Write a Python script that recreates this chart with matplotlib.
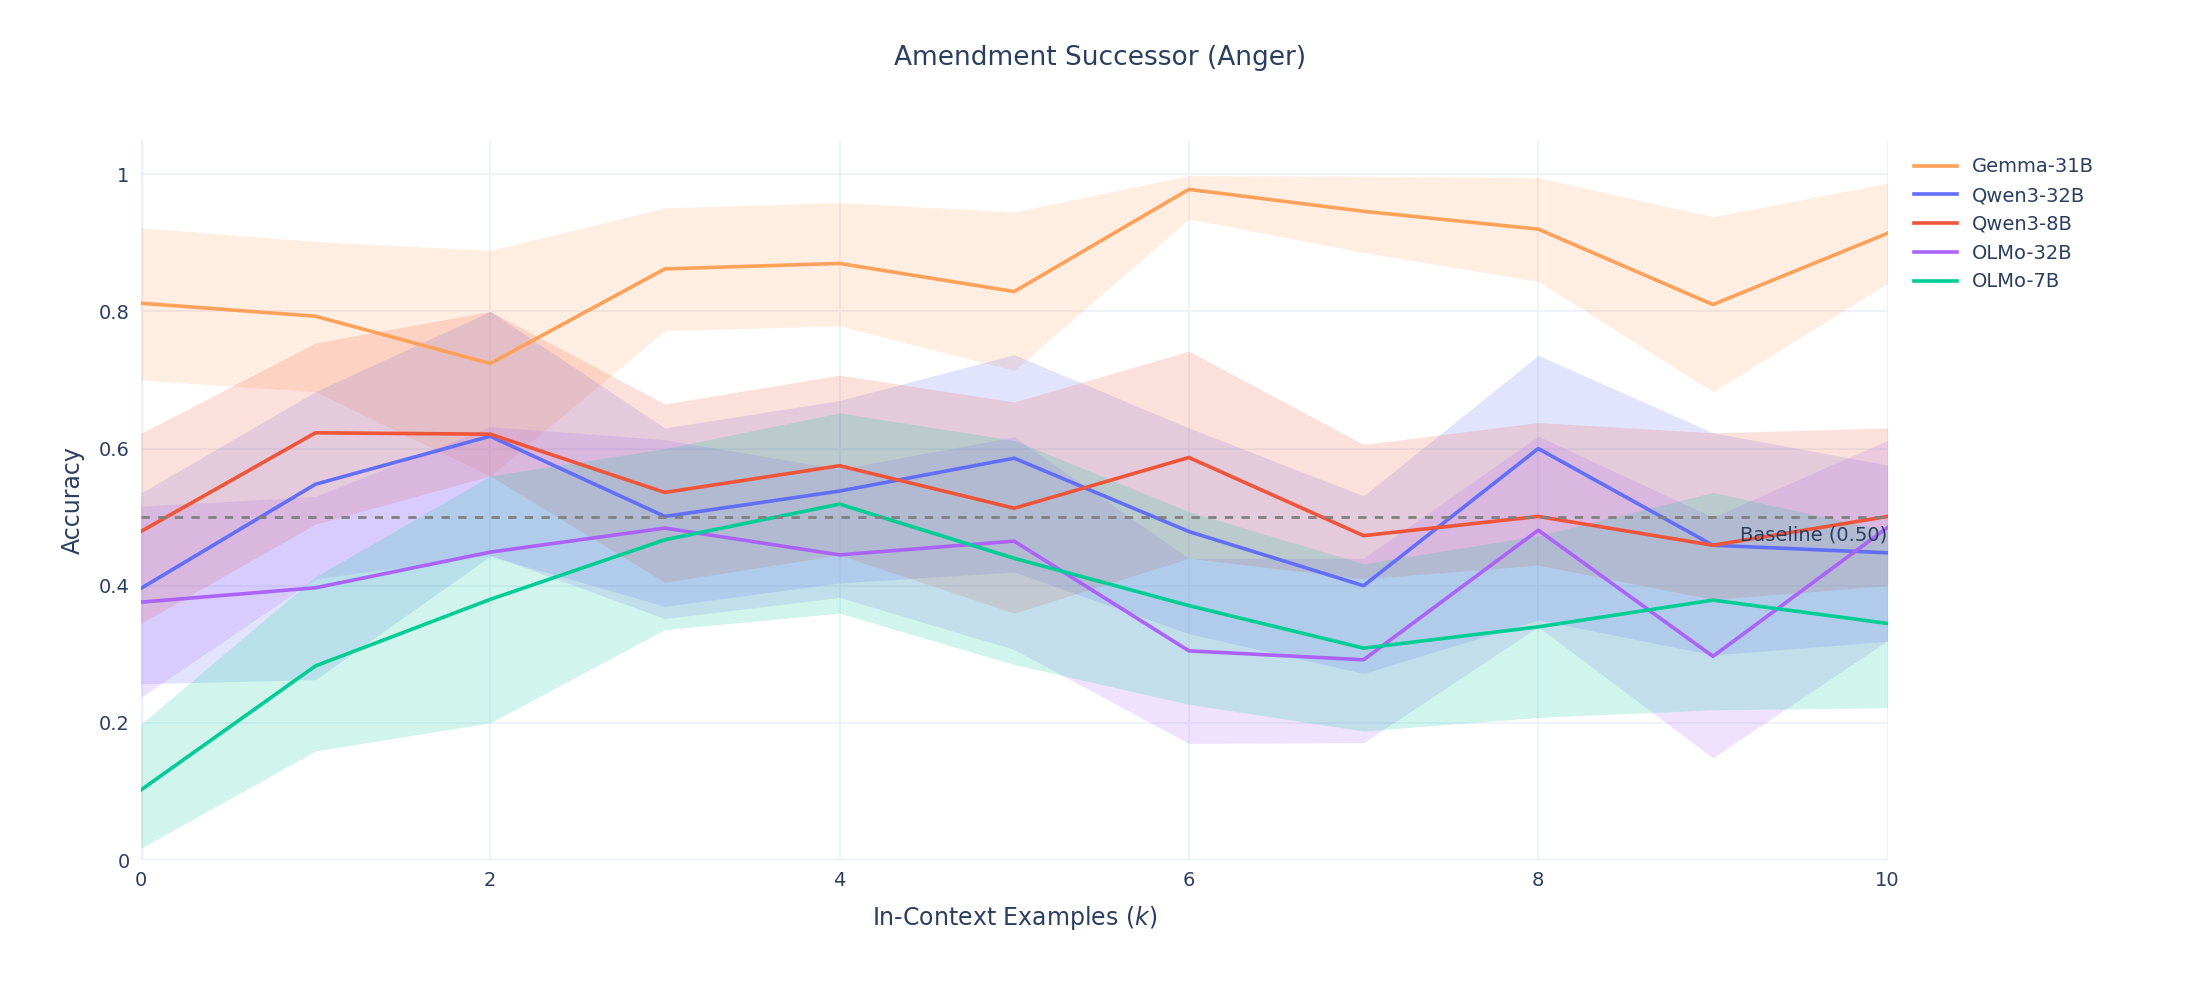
import matplotlib
matplotlib.use('Agg')
import matplotlib.pyplot as plt
import numpy as np

k = list(range(11))

models = ['Gemma-31B', 'Qwen3-32B', 'Qwen3-8B', 'OLMo-32B', 'OLMo-7B']
colors = ['#FFA15A', '#636EFA', '#EF553B', '#AB63FA', '#00CC96']

gemma_mean = [0.812, 0.793, 0.724, 0.862, 0.870, 0.829, 0.978, 0.946, 0.920, 0.810, 0.914]
gemma_hi = [0.922, 0.902, 0.889, 0.951, 0.959, 0.945, 0.998, 0.997, 0.995, 0.938, 0.987]
gemma_lo = [0.700, 0.683, 0.560, 0.772, 0.779, 0.714, 0.935, 0.886, 0.844, 0.683, 0.841]

qwen32_mean = [0.396, 0.548, 0.618, 0.501, 0.538, 0.586, 0.479, 0.400, 0.600, 0.459, 0.448]
qwen32_hi = [0.535, 0.683, 0.800, 0.630, 0.670, 0.737, 0.630, 0.531, 0.736, 0.623, 0.576]
qwen32_lo = [0.257, 0.263, 0.443, 0.370, 0.404, 0.420, 0.330, 0.272, 0.350, 0.299, 0.319]

qwen8_mean = [0.479, 0.623, 0.621, 0.536, 0.575, 0.513, 0.587, 0.473, 0.501, 0.459, 0.501]
qwen8_hi = [0.622, 0.754, 0.800, 0.665, 0.707, 0.668, 0.742, 0.606, 0.638, 0.623, 0.630]
qwen8_lo = [0.345, 0.490, 0.560, 0.405, 0.445, 0.360, 0.440, 0.410, 0.430, 0.380, 0.400]

olmo32_mean = [0.376, 0.397, 0.449, 0.484, 0.445, 0.465, 0.305, 0.292, 0.481, 0.297, 0.485]
olmo32_hi = [0.516, 0.530, 0.632, 0.613, 0.570, 0.617, 0.440, 0.440, 0.618, 0.500, 0.612]
olmo32_lo = [0.237, 0.410, 0.445, 0.352, 0.383, 0.307, 0.170, 0.171, 0.340, 0.149, 0.320]

olmo7_mean = [0.102, 0.283, 0.380, 0.467, 0.519, 0.440, 0.371, 0.309, 0.340, 0.379, 0.345]
olmo7_hi = [0.198, 0.413, 0.560, 0.600, 0.652, 0.612, 0.508, 0.432, 0.473, 0.536, 0.480]
olmo7_lo = [0.017, 0.159, 0.200, 0.336, 0.360, 0.285, 0.227, 0.188, 0.208, 0.219, 0.222]

means = [gemma_mean, qwen32_mean, qwen8_mean, olmo32_mean, olmo7_mean]
highs = [gemma_hi, qwen32_hi, qwen8_hi, olmo32_hi, olmo7_hi]
lows = [gemma_lo, qwen32_lo, qwen8_lo, olmo32_lo, olmo7_lo]
baseline = 0.5

text_color = '#2a3f5f'
grid_color = '#EBF0F8'
plt.rcParams['font.family'] = ['DejaVu Sans']

fig = plt.figure(figsize=(22, 10), dpi=100)
ax = fig.add_axes([0.064, 0.14, 0.794, 0.72])

for name, c, m, hi, lo in zip(models, colors, means, highs, lows):
    ax.fill_between(k, lo, hi, color=c, alpha=0.18, linewidth=0)
for name, c, m in zip(models, colors, means):
    ax.plot(k, m, color=c, linewidth=2.6, label=name)

ax.axhline(baseline, color='gray', linestyle=(0, (3, 3)), linewidth=2)
ax.text(10, baseline - 0.012, 'Baseline (0.50)', ha='right', va='top',
        fontsize=14, color=text_color)

ax.set_xlim(0, 10)
ax.set_ylim(0, 1.05)
ax.set_xticks([0, 2, 4, 6, 8, 10])
ax.set_yticks([0, 0.2, 0.4, 0.6, 0.8, 1.0])
ax.set_yticklabels(['0', '0.2', '0.4', '0.6', '0.8', '1'])
ax.grid(True, color=grid_color, linewidth=1.2)
ax.set_axisbelow(True)
for s in ax.spines.values():
    s.set_visible(False)
ax.axhline(0, color=grid_color, linewidth=2.5, zorder=0)
ax.axvline(0, color=grid_color, linewidth=2.5, zorder=0)
ax.tick_params(length=0, labelsize=14, colors=text_color, pad=8)

ax.set_xlabel('In-Context Examples ($k$)', fontsize=17, color=text_color, labelpad=10)
ax.set_ylabel('Accuracy', fontsize=17, color=text_color, labelpad=10)
fig.suptitle('Amendment Successor (Anger)', fontsize=19, color=text_color, y=0.955)

ax.legend(loc='upper left', bbox_to_anchor=(1.005, 1.0), frameon=False,
          fontsize=14, labelcolor=text_color, handlelength=2.2)

fig.savefig('out.png')
